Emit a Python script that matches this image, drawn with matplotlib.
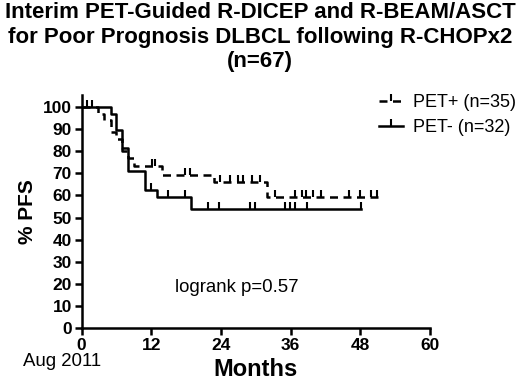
import matplotlib
matplotlib.use("Agg")
import matplotlib.pyplot as plt
from matplotlib.lines import Line2D
import numpy as np

plt.rcParams['font.family'] = ['Liberation Sans', 'DejaVu Sans']

# PET+ (dashed) Kaplan-Meier steps
pos_times = [0, 2.9, 3.9, 5.0, 6.0, 7.0, 8.0, 9.1, 13.9, 22.8, 32.0, 51.0]
pos_surv = [100, 97.1, 94.3, 88.6, 85.7, 80.0, 77.1, 73.5, 69.4, 66.2, 59.1, 59.1]
pos_cens = [1.0, 1.8, 12.1, 12.7, 17.8, 18.7, 23.8, 25.6, 27.0, 27.8, 29.3, 30.7,
            33.3, 36.7, 37.9, 38.6, 39.9, 41.3, 46.0, 47.9, 49.9, 50.8]

# PET- (solid) Kaplan-Meier steps
neg_times = [0, 5.0, 6.0, 6.9, 7.9, 10.9, 12.9, 18.9, 48.1]
neg_surv = [100, 96.9, 89.6, 81.3, 71.0, 62.5, 59.4, 53.8, 53.8]
neg_cens = [11.9, 14.9, 17.8, 21.8, 23.7, 29.0, 29.9, 35.0, 35.9, 36.8, 38.8, 48.1]

x_ticks = [0, 12, 24, 36, 48, 60]
y_ticks = list(range(0, 101, 10))

title_lines = ["Interim PET-Guided R-DICEP and R-BEAM/ASCT",
               "for Poor Prognosis DLBCL following R-CHOPx2",
               "(n=67)"]


def surv_at(t, times, surv):
    idx = np.searchsorted(times, t, side='right') - 1
    return surv[idx]


fig = plt.figure(figsize=(5.2, 3.87), dpi=100)
ax = fig.add_axes([0.157, 0.1525, 0.670, 0.602])

lw = 1.8
dash = (0, (3.2, 2.2))
ax.step(pos_times, pos_surv, where='post', color='black', lw=lw, linestyle=dash)
ax.step(neg_times, neg_surv, where='post', color='black', lw=lw)

ax.plot(pos_cens, [surv_at(t, pos_times, pos_surv) for t in pos_cens],
        linestyle='none', marker=2, markersize=5, mew=1.5, color='black')
ax.plot(neg_cens, [surv_at(t, neg_times, neg_surv) for t in neg_cens],
        linestyle='none', marker=2, markersize=5, mew=1.5, color='black')

ax.set_xlim(0, 60)
ax.set_ylim(0, 105.5)
ax.set_xticks(x_ticks)
ax.set_yticks(y_ticks)
ax.set_xticklabels([str(v) for v in x_ticks], fontweight='bold', fontsize=12.5)
ax.set_yticklabels([str(v) for v in y_ticks], fontweight='bold', fontsize=12.5)
for s in ['top', 'right']:
    ax.spines[s].set_visible(False)
for s in ['left', 'bottom']:
    ax.spines[s].set_linewidth(1.8)
ax.tick_params(direction='out', length=5, width=1.8, pad=2)

ax.set_xlabel('Months', fontweight='bold', fontsize=17, labelpad=4)
ax.set_ylabel('% PFS', fontweight='bold', fontsize=15, labelpad=4)

ax.text(26.7, 18.3, 'logrank p=0.57', fontsize=13.4, ha='center', va='center')

for i, line in enumerate(title_lines):
    fig.text(0.5, 1 - (13 + 24.5 * i) / 387, line, ha='center', va='center',
             fontweight='bold', fontsize=16)

fig.text(23 / 520, 1 - 362 / 387, 'Aug 2011', fontsize=13.4, ha='left', va='center')

handles = [Line2D([0, 0.5, 1], [0, 0, 0], color='black', lw=lw, linestyle=dash,
                  marker=2, markersize=5, mew=1.5, markevery=[1]),
           Line2D([0, 0.5, 1], [0, 0, 0], color='black', lw=lw,
                  marker=2, markersize=5, mew=1.5, markevery=[1])]
ax.legend(handles, ['PET+ (n=35)', 'PET- (n=32)'], frameon=False,
          loc='upper left', bbox_to_anchor=(370 / 520, 1 - 85 / 387),
          bbox_transform=fig.transFigure, fontsize=13, handlelength=1.35,
          handletextpad=0.55, labelspacing=0.45, borderpad=0)

fig.savefig('out.png', dpi=100)
